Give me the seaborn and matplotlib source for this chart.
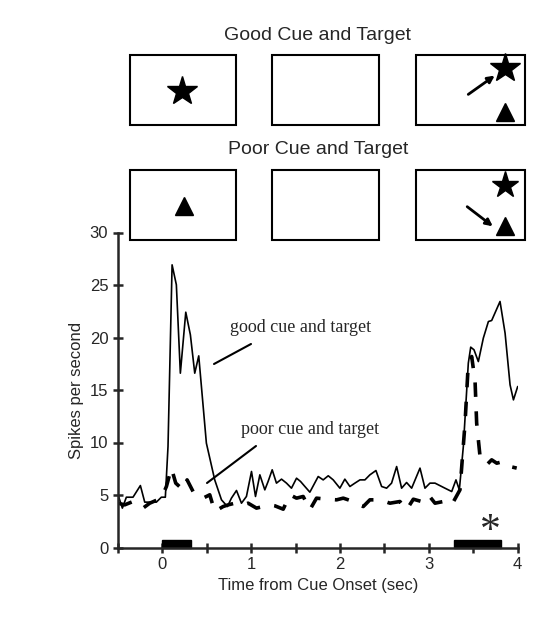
import numpy as np
import pandas as pd
import matplotlib
matplotlib.use("Agg")
import matplotlib.pyplot as plt
import seaborn as sns
from matplotlib.patches import Rectangle

sns.set_style("ticks")
plt.rcParams['font.family'] = ['Liberation Sans', 'DejaVu Sans']

def zx(x): return -0.5 + (x - 55) / 266.2
def zy(y): return (893 - y) / 31.5

good_z = [(55,735),(68,775),(80,742),(100,742),(122,707),(135,757),(150,757),(170,757),(185,742),(197,742),
 (205,590),(217,45),(230,105),(242,370),(258,187),(272,255),(285,370),(297,318),(320,580),(345,690),(365,750),
 (383,770),(395,745),(410,722),(425,760),(440,740),(455,665),(467,740),(480,675),(495,720),(505,695),(517,660),
 (530,700),(545,688),(560,700),(575,715),(590,685),(602,695),(615,710),(630,727),(655,680),(670,690),(685,678),
 (700,690),(720,715),(735,688),(750,710),(765,700),(780,690),(795,690),(810,675),(828,662),(845,710),(860,715),
 (875,700),(890,650),(905,715),(920,698),(935,715),(960,655),(975,715),(990,700),(1005,700),(1035,715),(1055,725),
 (1068,690),(1078,720),(1090,590),(1105,340),(1112,292),(1122,300),(1135,335),(1150,265),(1165,215),(1175,212),
 (1200,155),(1215,250),(1230,405),(1240,450),(1253,410)]
poor_z = [(55,760),(75,765),(100,755),(130,775),(150,760),(185,745),(200,710),(215,655),(228,700),(250,720),
 (262,690),(285,735),(310,745),(330,735),(345,785),(370,770),(385,765),(405,760),(430,765),(445,760),(470,775),
 (490,770),(510,765),(525,768),(550,778),(570,735),(590,745),(610,740),(630,780),(650,745),(680,748),(710,750),
 (730,745),(760,755),(790,770),(810,750),(840,750),(870,760),(900,755),(920,780),(940,748),(965,755),(985,735),
 (1005,760),(1030,755),(1055,765),(1080,720),(1095,520),(1105,340),(1115,320),(1125,395),(1130,520),(1140,620),
 (1160,645),(1175,630),(1190,640),(1210,635),(1230,650),(1250,655)]

good_t = [round(zx(a), 3) for a, b in good_z]
good_rate = [round(zy(b), 2) for a, b in good_z]
poor_t = [round(zx(a), 3) for a, b in poor_z]
poor_rate = [round(zy(b), 2) for a, b in poor_z]

bars = [(0.0, 0.32), (3.28, 3.81)]

fig = plt.figure(figsize=(5.5, 6.4), dpi=100)
ax = fig.add_axes([118/550, (640-547.5)/640, (517.7-118)/550, (547.5-232.5)/640])
sns.lineplot(x=good_t, y=good_rate, ax=ax, color='black', lw=1.2, sort=False)
sns.lineplot(x=poor_t, y=poor_rate, ax=ax, color='black', lw=2.6, sort=False)
ax.lines[-1].set_dashes([4, 4])
for a, b in bars:
    ax.add_patch(Rectangle((a, 0), b - a, 0.7, color='black', clip_on=False))
ax.text(3.69, 1.5, '*', fontsize=30, ha='center', va='center', family='Liberation Serif')
ax.set_xlim(-0.5, 4); ax.set_ylim(0, 30)
ax.set_xticks([0, 1, 2, 3, 4])
ax.set_xticks([-0.5, 0.5, 1.5, 2.5, 3.5], minor=True)
ax.set_yticks([0, 5, 10, 15, 20, 25, 30])
ax.tick_params(which='both', direction='inout', length=7, width=1.8, labelsize=12)
sns.despine(ax=ax)
for s in ['left', 'bottom']:
    ax.spines[s].set_linewidth(1.8)
ax.set_xlabel('Time from Cue Onset (sec)', fontsize=12)
ax.set_ylabel('Spikes per second', fontsize=12)

ov = fig.add_axes([0, 0, 1, 1]); ov.set_xlim(0, 550); ov.set_ylim(640, 0); ov.axis('off'); ov.patch.set_alpha(0)
ov.text(230, 327, 'good cue and target', family='Liberation Serif', fontsize=13, va='center')
ov.text(241, 429, 'poor cue and target', family='Liberation Serif', fontsize=13, va='center')
ov.plot([214, 251], [364, 344], color='black', lw=1.5)
ov.plot([207, 256], [483, 446], color='black', lw=1.5)
ov.text(318, 35, 'Good Cue and Target', fontsize=14, ha='center', va='center')
ov.text(318, 150, 'Poor Cue and Target', fontsize=14, ha='center', va='center')
for y0 in (55, 170):
    for x0, x1 in ((130, 236), (272, 379), (416, 525)):
        ov.add_patch(Rectangle((x0, y0), x1 - x0, 70, fill=False, lw=1.5, ec='black'))
ov.plot([182], [91], marker='*', ms=22, color='black')
ov.plot([184], [206], marker='^', ms=13, color='black')
ov.plot([505], [68], marker='*', ms=22, color='black')
ov.plot([505], [112], marker='^', ms=13, color='black')
ov.plot([505], [185], marker='*', ms=20, color='black')
ov.plot([505], [226], marker='^', ms=13, color='black')
ov.annotate('', xy=(497, 74), xytext=(466, 96), arrowprops=dict(arrowstyle='-|>', lw=2, color='black'))
ov.annotate('', xy=(495, 228), xytext=(465, 205), arrowprops=dict(arrowstyle='-|>', lw=2, color='black'))
fig.savefig('out.png', dpi=100)
